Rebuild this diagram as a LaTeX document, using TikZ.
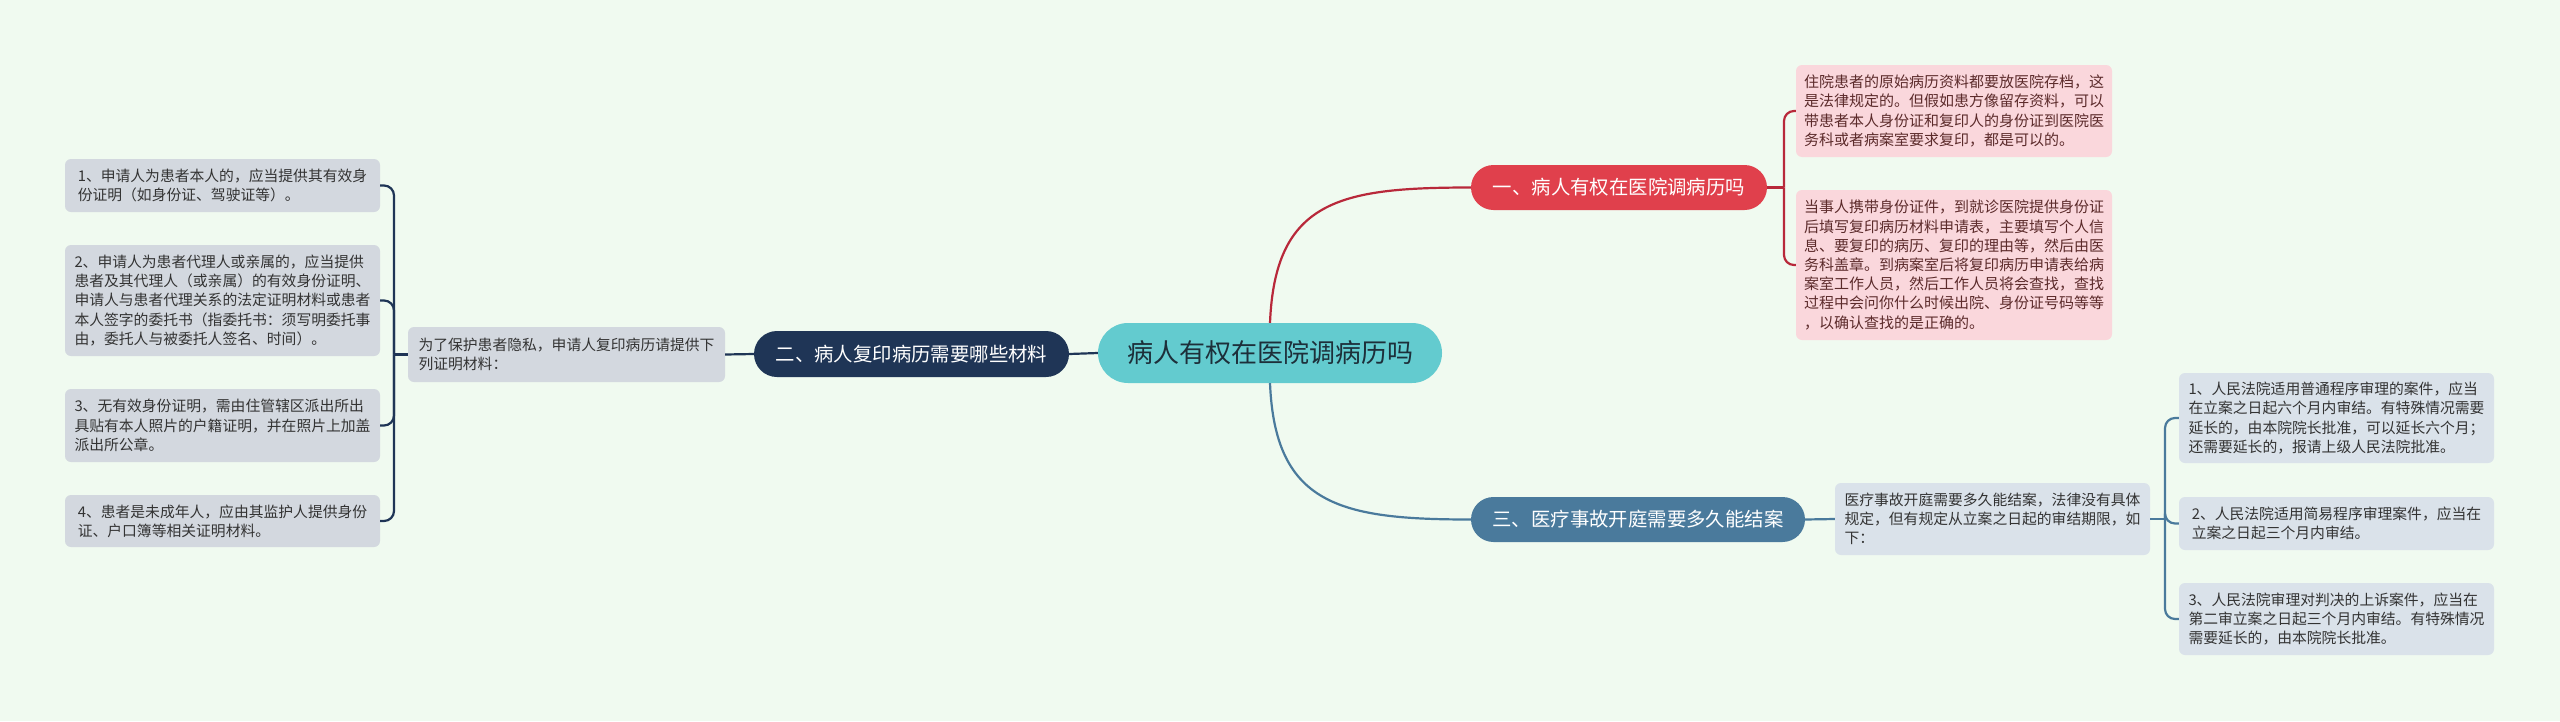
\documentclass[tikz,border=0pt]{standalone}
\usepackage{fontspec}
\setmainfont{Noto Sans CJK SC}
\definecolor{bgc}{HTML}{F0FAF0}
\definecolor{teal1}{HTML}{63CBCF}
\definecolor{red1}{HTML}{E0404C}
\definecolor{navy1}{HTML}{1F3556}
\definecolor{blue1}{HTML}{4A7A9C}
\definecolor{redline}{HTML}{B8283A}
\definecolor{leafred}{HTML}{FAD7DC}
\definecolor{leafgray}{HTML}{D3D8DF}
\definecolor{leafblue}{HTML}{DAE2EA}
\definecolor{txtred}{HTML}{5C2B2B}
\definecolor{txtdark}{HTML}{333333}
\definecolor{ctext}{HTML}{1D2F3A}
\tikzset{
  centernode/.style={fill=teal1, text=ctext, rounded corners=30pt, minimum width=344pt, minimum height=60pt, inner sep=0pt, font=\fontsize{26}{30}\selectfont},
  topic/.style={text=white, rounded corners=22.5pt, minimum height=45pt, inner sep=0pt, font=\fontsize{19.4}{23}\selectfont},
  leaf/.style={rounded corners=6pt, align=left, inner sep=0pt, minimum width=315pt, font=\fontsize{14.8}{19.2}\selectfont},
  leafR/.style={leaf, fill=leafred, text=txtred, font=\fontsize{15}{19.2}\selectfont},
  leafG/.style={leaf, fill=leafgray, text=txtdark},
  leafB/.style={leaf, fill=leafblue, text=txtdark},
  conn/.style={line width=2.2pt, rounded corners=10pt},
}
\begin{document}
\begin{tikzpicture}[x=1pt,y=-1pt]
\fill[bgc] (0,0) rectangle (2560,721);
\useasboundingbox (0,0) rectangle (2560,721);

% central and topics
\node[centernode] (c) at (1270,353) {病人有权在医院调病历吗};
\node[topic, fill=red1, minimum width=296pt] (t1) at (1619,187.5) {一、病人有权在医院调病历吗};
\node[topic, fill=navy1, minimum width=315pt, minimum height=46pt, rounded corners=23pt] (t2) at (911.5,354) {二、病人复印病历需要哪些材料};
\node[topic, fill=blue1, minimum width=334pt] (t3) at (1638,519.5) {三、医疗事故开庭需要多久能结案};

% red branch leaves
\node[leafR, minimum width=316pt, minimum height=92pt] (r1) at (1954,111) {住院患者的原始病历资料都要放医院存档，这\\是法律规定的。但假如患方像留存资料，可以\\带患者本人身份证和复印人的身份证到医院医\\务科或者病案室要求复印，都是可以的。};
\node[leafR, minimum width=316pt, minimum height=150pt] (r2) at (1954,265) {当事人携带身份证件，到就诊医院提供身份证\\后填写复印病历材料申请表，主要填写个人信\\息、要复印的病历、复印的理由等，然后由医\\务科盖章。到病案室后将复印病历申请表给病\\案室工作人员，然后工作人员将会查找，查找\\过程中会问你什么时候出院、身份证号码等等\\，以确认查找的是正确的。};

% left branch
\node[leafG, minimum width=317pt, minimum height=55pt] (i2) at (566.5,354.5) {为了保护患者隐私，申请人复印病历请提供下\\列证明材料：};
\node[leafG, minimum height=53pt] (l1) at (222.5,185.5) {1、申请人为患者本人的，应当提供其有效身\\份证明（如身份证、驾驶证等）。};
\node[leafG, minimum height=111pt] (l2) at (222.5,300.5) {2、申请人为患者代理人或亲属的，应当提供\\患者及其代理人（或亲属）的有效身份证明、\\申请人与患者代理关系的法定证明材料或患者\\本人签字的委托书（指委托书：须写明委托事\\由，委托人与被委托人签名、时间）。};
\node[leafG, minimum height=73pt] (l3) at (222.5,425.5) {3、无有效身份证明，需由住管辖区派出所出\\具贴有本人照片的户籍证明，并在照片上加盖\\派出所公章。};
\node[leafG, minimum height=52pt] (l4) at (222.5,521) {4、患者是未成年人，应由其监护人提供身份\\证、户口簿等相关证明材料。};

% right branch
\node[leafB, minimum height=72pt] (i3) at (1992.5,519) {医疗事故开庭需要多久能结案，法律没有具体\\规定，但有规定从立案之日起的审结期限，如\\下：};
\node[leafB, minimum height=90pt] (b1) at (2336.5,418) {1、人民法院适用普通程序审理的案件，应当\\在立案之日起六个月内审结。有特殊情况需要\\延长的，由本院院长批准，可以延长六个月；\\还需要延长的，报请上级人民法院批准。};
\node[leafB, minimum height=53pt] (b2) at (2336.5,523.5) {2、人民法院适用简易程序审理案件，应当在\\立案之日起三个月内审结。};
\node[leafB, minimum height=72pt] (b3) at (2336.5,619) {3、人民法院审理对判决的上诉案件，应当在\\第二审立案之日起三个月内审结。有特殊情况\\需要延长的，由本院院长批准。};

% main connectors
\draw[redline, line width=2.2pt] (c.north) .. controls (1275,200) and (1340,187.5) .. (t1.west);
\draw[blue1, line width=2.2pt] (c.south) .. controls (1275,505) and (1340,519.5) .. (t3.west);
\draw[navy1, line width=2.2pt] (c.west) -- (t2.east);

% red bracket
\coordinate (rj) at (1784,187.5);
\draw[redline, conn] (t1.east) -- (rj);
\draw[redline, conn] (rj) |- (r1.west);
\draw[redline, conn] (rj) |- (r2.west);

% left bracket
\draw[navy1, conn] (t2.west) -- (i2.east);
\coordinate (lj) at (394,354.5);
\draw[navy1, conn] (i2.west) -- (lj);
\draw[navy1, conn] (lj) |- (l1.east);
\draw[navy1, conn] (lj) |- (l2.east);
\draw[navy1, conn] (lj) |- (l3.east);
\draw[navy1, conn] (lj) |- (l4.east);

% right bracket
\draw[blue1, conn] (t3.east) -- (i3.west);
\coordinate (bj) at (2165,519);
\draw[blue1, conn] (i3.east) -- (bj);
\draw[blue1, conn] (bj) |- (b1.west);
\draw[blue1, conn] (bj) |- (b2.west);
\draw[blue1, conn] (bj) |- (b3.west);
\end{tikzpicture}
\end{document}
